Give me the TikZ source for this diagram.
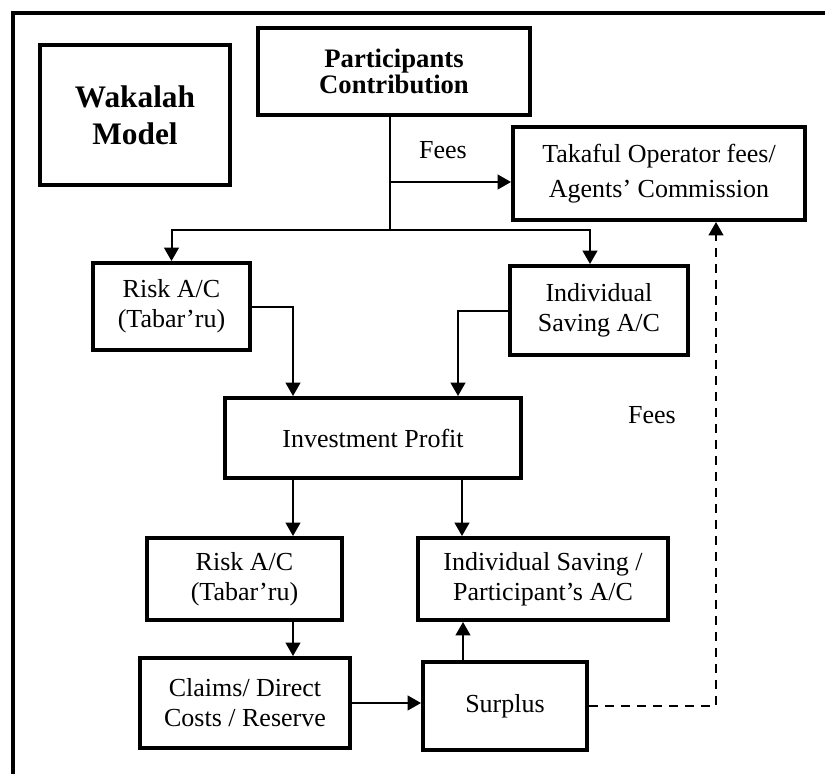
\documentclass[tikz,border=0pt]{standalone}
\usepackage{fontspec}
\setmainfont{Liberation Serif}
\usetikzlibrary{arrows.meta,calc}

\tikzset{
  box/.style={draw,line width=3pt,align=center,inner sep=0pt,
    font=\fontsize{19.5}{22.5}\selectfont},
  size/.style 2 args={minimum width=#1*0.75pt,minimum height=#2*0.75pt},
  link/.style={line width=1.5pt,-{Triangle[length=10pt,width=11pt]}}
}

\begin{document}
\begin{tikzpicture}[x=0.75pt,y=-0.75pt]
\useasboundingbox (0,0) rectangle (825,774);
% outer frame
\draw[line width=3pt] (13,774) -- (13,13) -- (825,13);

\node[box,size={190}{140},
  font=\fontsize{23.5}{27.5}\selectfont\bfseries] (wak) at (135,115) {Wakalah\\Model};
\node[box,size={272}{87},
  font=\fontsize{20}{17.5}\selectfont\bfseries] (part) at (394,71.5) {Participants\\Contribution};
\node[box,size={292}{93},
  font=\fontsize{19.5}{26}\selectfont] (tak) at (659,173.5) {Takaful Operator fees/\\Agents’ Commission};

\node[box,size={157}{87}] (risk1) at (171.5,306.5) {Risk A/C\\(Tabar’ru)};
\node[box,size={178}{89}] (indiv1) at (599,310.5) {Individual\\Saving A/C};
\node[box,size={296}{80}] (invest) at (373,438) {Investment Profit};
\node[box,size={195}{82}] (risk2) at (244.5,579) {Risk A/C\\(Tabar’ru)};
\node[box,size={250}{82}] (indiv2) at (543,579) {Individual Saving /\\Participant’s A/C};
\node[box,size={210}{90}] (claims) at (245,703) {Claims/ Direct\\Costs / Reserve};
\node[box,size={164}{88}] (surplus) at (505,706) {Surplus};

\node[font=\fontsize{19.5}{23}\selectfont] (fees1) at (443,150) {Fees};
\node[font=\fontsize{19.5}{23}\selectfont] (fees2) at (652,415) {Fees};

% split of the contribution
\coordinate (split) at (390,230);
\coordinate (feesrc) at (390,182);
\coordinate (toind) at (590,230);
\draw[line width=1.5pt] (part.south -| split) -- (split);
\draw[link] (split) -| (risk1.north);
\draw[link] (split) -- (toind) -- (toind |- indiv1.north);
\draw[link] (feesrc) -- (feesrc -| tak.west);

% into investment
\draw[link] (risk1.east) -| ($(invest.north)+(-80,0)$);
\draw[link] (indiv1.west) -| ($(invest.north)+(85,0)$);

% out of investment
\coordinate (a) at ($(invest.south)+(-80,0)$);
\coordinate (b) at ($(invest.south)+(89,0)$);
\draw[link] (a) -- (a |- risk2.north);
\draw[link] (b) -- (b |- indiv2.north);

\coordinate (c) at ($(risk2.south)+(48.5,0)$);
\draw[link] (c) -- (c |- claims.north);
\draw[link] (claims.east) -- (claims.east -| surplus.west);
\coordinate (d) at ($(surplus.north)+(-42,0)$);
\draw[link] (d) -- (d |- indiv2.south);
\draw[link,dashed,dash pattern=on 7pt off 5pt] (surplus.east) -| ($(tak.south)+(57,0)$);
\end{tikzpicture}
\end{document}
